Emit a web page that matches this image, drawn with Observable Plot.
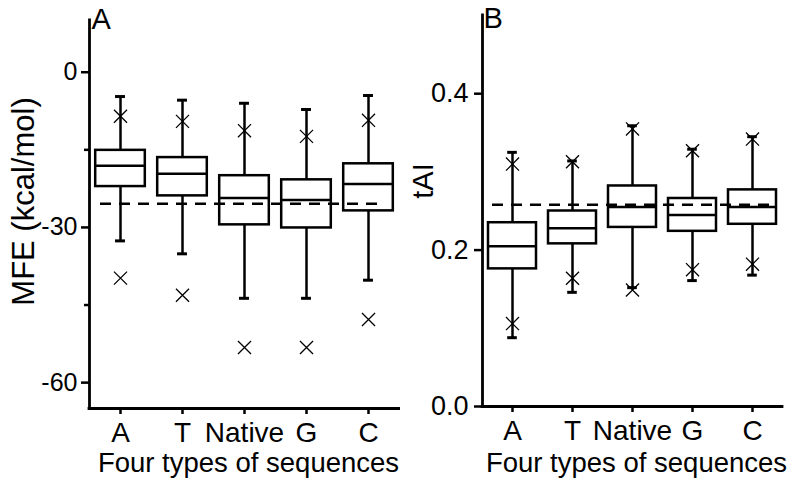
<!DOCTYPE html>
<html><head><meta charset="utf-8">
<script src="https://cdn.jsdelivr.net/npm/d3@7"></script>
<script src="https://cdn.jsdelivr.net/npm/@observablehq/plot@0.6"></script>
<style>
body{margin:0;background:#fff;}
#wrap{display:flex;width:794px;height:485px;overflow:hidden;}
svg{display:block;overflow:visible;}
</style></head><body><div id="wrap"></div>
<script>
// Categories
const categories = ["A", "T", "Native", "G", "C"];

// Panel A: MFE (kcal/mol)
const mfeWhiskerHigh = [-4.7, -5.4, -6.0, -7.2, -4.5];
const mfeMarkHigh    = [-8.5, -9.5, -11.3, -12.4, -9.3];
const mfeQ3          = [-15.1, -16.5, -20.0, -20.8, -17.7];
const mfeMedian      = [-18.1, -19.6, -24.3, -24.7, -21.6];
const mfeQ1          = [-22.1, -23.9, -29.5, -30.1, -26.8];
const mfeWhiskerLow  = [-32.6, -35.1, -43.7, -43.7, -40.2];
const mfeMarkLow     = [-39.8, -43.1, -53.2, -53.2, -47.8];
const mfeReference   = -25.4;
const mfeMajorTicks  = [0, -30, -60];
const mfeMinorTicks  = [-15, -45];
const mfeDomain      = [-65, 10];

// Panel B: tAI
const taiWhiskerHigh = [0.325, 0.314, 0.359, 0.329, 0.345];
const taiMarkHigh    = [0.310, 0.313, 0.355, 0.327, 0.342];
const taiQ3          = [0.235, 0.250, 0.282, 0.266, 0.277];
const taiMedian      = [0.205, 0.228, 0.255, 0.245, 0.255];
const taiQ1          = [0.176, 0.208, 0.229, 0.224, 0.233];
const taiMarkLow     = [0.106, 0.164, 0.149, 0.175, 0.182];
const taiWhiskerLow  = [0.088, 0.146, 0.152, 0.161, 0.168];
const taiReference   = 0.258;
const taiMajorTicks  = [0.0, 0.2, 0.4];
const taiMinorTicks  = [];
const taiDomain      = [0, 0.5];

const xLabel = "Four types of sequences";
const FONT = "'Liberation Sans', Arial, Helvetica, sans-serif";
const SW = 2.5;

function buildRows(wh, mh, q3, med, q1, ml, wl) {
  return categories.map((c, k) => ({
    cat: c, pos: k + 1,
    whiskerHigh: wh[k], markHigh: mh[k], q3: q3[k], median: med[k],
    q1: q1[k], markLow: ml[k], whiskerLow: wl[k]
  }));
}

function panel(o) {
  const rows = o.rows;
  const xDomain = [0.5, categories.length + 0.5];
  const half = 0.4, cap = 0.08;
  return Plot.plot({
    width: o.width, height: 485,
    marginLeft: o.marginLeft, marginRight: o.marginRight,
    marginTop: o.marginTop, marginBottom: o.marginBottom,
    style: {fontFamily: FONT, background: "white", color: "black"},
    x: {type: "linear", domain: xDomain, axis: null},
    y: {type: "linear", domain: o.yDomain, axis: null},
    marks: [
      // whiskers
      Plot.ruleX(rows, {x: "pos", y1: "whiskerLow", y2: "whiskerHigh", stroke: "black", strokeWidth: SW}),
      Plot.ruleY(rows, {y: "whiskerHigh", x1: d => d.pos - cap, x2: d => d.pos + cap, stroke: "black", strokeWidth: 3}),
      Plot.ruleY(rows, {y: "whiskerLow", x1: d => d.pos - cap, x2: d => d.pos + cap, stroke: "black", strokeWidth: 3}),
      // boxes
      Plot.rect(rows, {x1: d => d.pos - half, x2: d => d.pos + half, y1: "q1", y2: "q3", fill: "white", stroke: "black", strokeWidth: SW}),
      Plot.ruleY(rows, {y: "median", x1: d => d.pos - half, x2: d => d.pos + half, stroke: "black", strokeWidth: SW}),
      // reference dashed line
      Plot.ruleY([o.reference], {stroke: "black", strokeWidth: SW, strokeDasharray: "11,8", insetLeft: o.dashInsetLeft, insetRight: o.dashInsetRight}),
      // extreme marks
      Plot.dot(rows, {x: "pos", y: "markHigh", symbol: "times", r: 6, stroke: "black", strokeWidth: 1.3}),
      Plot.dot(rows, {x: "pos", y: "markLow", symbol: "times", r: 6, stroke: "black", strokeWidth: 1.3}),
      // axes lines
      Plot.ruleX([xDomain[0]], {stroke: "black", strokeWidth: 2.8, strokeLinecap: "square"}),
      Plot.ruleY([o.yDomain[0]], {stroke: "black", strokeWidth: 2.8, strokeLinecap: "square"}),
      // y axis ticks
      Plot.axisY(o.majorTicks, {tickSize: 8, tickPadding: o.yTickPadding, fontSize: o.yTickSize, strokeWidth: SW, label: null, tickFormat: o.tickFormat}),
      ...(o.minorTicks.length ? [Plot.axisY(o.minorTicks, {tickSize: 5, tickPadding: 4, fontSize: o.yTickSize, strokeWidth: SW, label: null, tickFormat: () => ""})] : []),
      // x axis ticks
      Plot.axisX(categories.map((c, k) => k + 1), {tickSize: 6, tickPadding: 8, fontSize: 28, strokeWidth: SW, label: null, tickFormat: v => categories[v - 1]}),
      // labels
      Plot.text([o.yLabel], {frameAnchor: "left", rotate: -90, textAnchor: "middle", lineAnchor: "bottom", dx: o.yLabelDx, dy: o.yLabelDy, fontSize: o.yLabelSize, fill: "black"}),
      Plot.text([xLabel], {frameAnchor: "bottom", textAnchor: "middle", lineAnchor: "bottom", dx: 4, dy: o.xLabelDy, fontSize: 27.5, fill: "black"}),
      Plot.text([o.letter], {frameAnchor: "top-left", textAnchor: "start", lineAnchor: "bottom", dx: o.letterDx, dy: o.letterDy, fontSize: 29, fill: "black"})
    ]
  });
}

const wrap = document.getElementById("wrap");
wrap.appendChild(panel({
  rows: buildRows(mfeWhiskerHigh, mfeMarkHigh, mfeQ3, mfeMedian, mfeQ1, mfeMarkLow, mfeWhiskerLow),
  reference: mfeReference, yDomain: mfeDomain, majorTicks: mfeMajorTicks, minorTicks: mfeMinorTicks,
  tickFormat: d => d3.format("d")(d).replace("−", "-"),
  yTickSize: 25, yTickPadding: 4,
  width: 400, marginLeft: 89, marginRight: 1, marginTop: 20, marginBottom: 77,
  dashInsetLeft: 11, dashInsetRight: 16,
  yLabel: "MFE (kcal/mol)", yLabelDx: -56, yLabelDy: -13, yLabelSize: 31,
  xLabelDy: 63, letter: "A", letterDx: 2, letterDy: 8
}));
wrap.appendChild(panel({
  rows: buildRows(taiWhiskerHigh, taiMarkHigh, taiQ3, taiMedian, taiQ1, taiMarkLow, taiWhiskerLow),
  reference: taiReference, yDomain: taiDomain, majorTicks: taiMajorTicks, minorTicks: taiMinorTicks,
  tickFormat: d3.format(".1f"),
  yTickSize: 27, yTickPadding: 6,
  width: 394, marginLeft: 82, marginRight: 12, marginTop: 15, marginBottom: 79,
  dashInsetLeft: 10, dashInsetRight: 5,
  yLabel: "tAI", yLabelDx: -50, yLabelDy: -30, yLabelSize: 29,
  xLabelDy: 65, letter: "B", letterDx: 1, letterDy: 12
}));
</script></body></html>
